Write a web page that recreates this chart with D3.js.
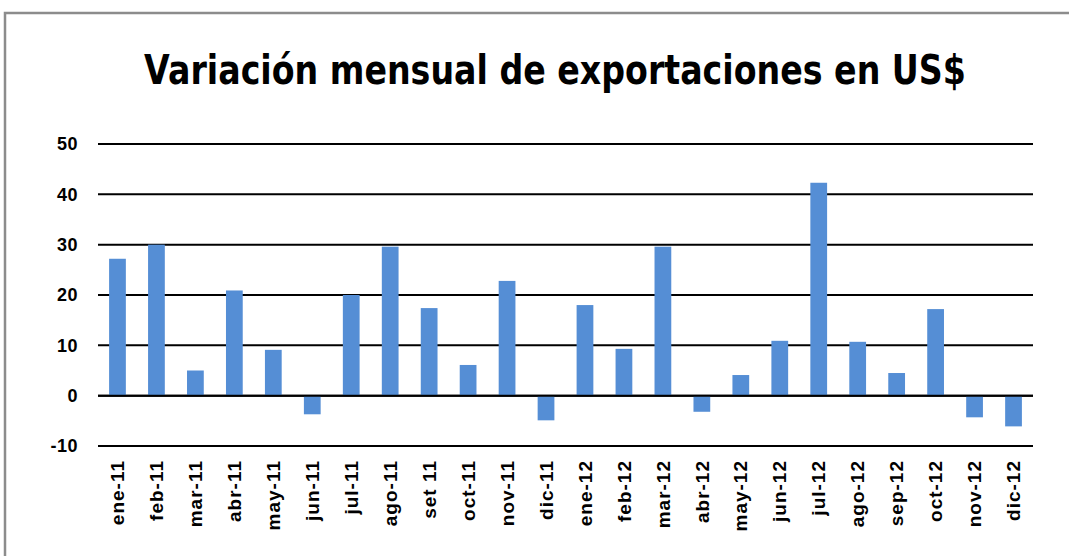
<!DOCTYPE html>
<html>
<head>
<meta charset="utf-8">
<script src="https://cdn.jsdelivr.net/npm/d3@7"></script>
<style>
  html, body { margin: 0; padding: 0; background: #fff; }
  svg { display: block; }
</style>
</head>
<body>
<div id="chart"></div>
<script>
// Datos del gráfico
const titulo = 'Variación mensual de exportaciones en US$';
const meses = ['ene-11', 'feb-11', 'mar-11', 'abr-11', 'may-11', 'jun-11', 'jul-11', 'ago-11',
    'set 11', 'oct-11', 'nov-11', 'dic-11', 'ene-12', 'feb-12', 'mar-12', 'abr-12',
    'may-12', 'jun-12', 'jul-12', 'ago-12', 'sep-12', 'oct-12', 'nov-12', 'dic-12'];
const variacion = [27.2, 30.0, 5.0, 20.9, 9.1, -3.7, 20.0, 29.6, 17.4, 6.1, 22.8, -4.9,
    18.0, 9.3, 29.6, -3.2, 4.1, 10.9, 42.3, 10.7, 4.5, 17.2, -4.3, -6.1];
const yTicks = [-10, 0, 10, 20, 30, 40, 50];

const W = 1069, H = 556;
const margin = { top: 144, right: 36, bottom: 110, left: 98 };

const svg = d3.select('#chart').append('svg')
    .attr('width', W)
    .attr('height', H);

// Marco exterior (solo se ven el borde superior e izquierdo)
svg.append('rect')
    .attr('x', 5).attr('y', 13)
    .attr('width', W + 10).attr('height', H + 10)
    .attr('fill', 'none')
    .attr('stroke', '#8c8c8c')
    .attr('stroke-width', 2.5);

// Título: se estrecha con una escala horizontal para ocupar ~822 px
const tituloG = svg.append('g');
const tituloTxt = tituloG.append('text')
    .attr('x', 0)
    .attr('y', 0)
    .attr('text-anchor', 'middle')
    .attr('font-family', 'DejaVu Sans')
    .attr('font-weight', 'bold')
    .attr('font-size', 41)
    .attr('fill', '#000')
    .text(titulo);
const anchoNatural = tituloTxt.node().getComputedTextLength() || 822;
tituloG.attr('transform', `translate(555,84) scale(${822 / anchoNatural},1)`);

// Escalas
const x = d3.scaleBand()
    .domain(meses)
    .range([margin.left, W - margin.right])
    .paddingInner(0.57)
    .paddingOuter(0.285);

const y = d3.scaleLinear()
    .domain([-10, 50])
    .range([H - margin.bottom, margin.top]);

// Líneas de cuadrícula
svg.append('g')
    .selectAll('line')
    .data(yTicks)
    .join('line')
    .attr('x1', margin.left)
    .attr('x2', W - margin.right)
    .attr('y1', d => y(d))
    .attr('y2', d => y(d))
    .attr('stroke', '#000')
    .attr('stroke-width', 2);

// Etiquetas eje Y
svg.append('g')
    .selectAll('text')
    .data(yTicks)
    .join('text')
    .attr('x', margin.left - 20)
    .attr('y', d => y(d))
    .attr('dy', '0.35em')
    .attr('text-anchor', 'end')
    .attr('font-family', 'Liberation Sans')
    .attr('font-weight', 'bold')
    .attr('font-size', 18)
    .attr('letter-spacing', 0.5)
    .text(d => d);

// Barras
svg.append('g')
    .selectAll('rect')
    .data(variacion)
    .join('rect')
    .attr('x', (d, i) => x(meses[i]))
    .attr('width', x.bandwidth())
    .attr('y', d => y(Math.max(0, d)))
    .attr('height', d => Math.abs(y(d) - y(0)))
    .attr('fill', '#558ed5');

// Línea de cero por encima de las barras
svg.append('line')
    .attr('x1', margin.left)
    .attr('x2', W - margin.right)
    .attr('y1', y(0))
    .attr('y2', y(0))
    .attr('stroke', '#000')
    .attr('stroke-width', 2);

// Etiquetas eje X (rotadas)
svg.append('g')
    .selectAll('text')
    .data(meses)
    .join('text')
    .attr('transform', d => `translate(${x(d) + x.bandwidth() / 2},${y(-10) + 14}) rotate(-90)`)
    .attr('dy', '0.35em')
    .attr('text-anchor', 'end')
    .attr('font-family', 'Liberation Sans')
    .attr('font-weight', 'bold')
    .attr('font-size', 19)
    .attr('letter-spacing', 1)
    .text(d => d);
</script>
</body>
</html>
